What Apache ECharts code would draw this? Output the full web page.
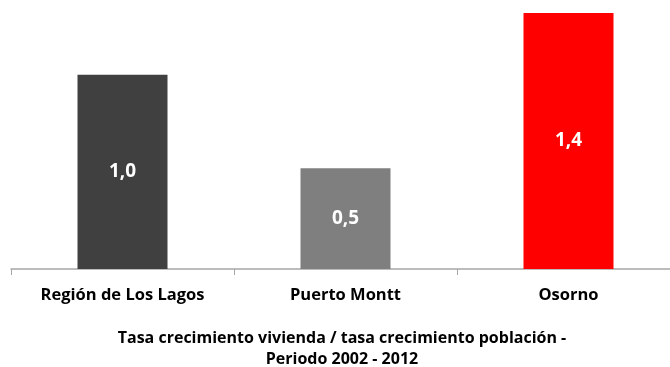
<!DOCTYPE html>
<html><head><meta charset="utf-8">
<script src="https://cdn.jsdelivr.net/npm/echarts@6/dist/echarts.min.js"></script>
<style>html,body{margin:0;padding:0;background:#fff;overflow:hidden}#c{width:690px;height:367px}</style>
</head><body><div id="c"></div>
<script>
const categories = ['Región de Los Lagos', 'Puerto Montt', 'Osorno'];
const values = [1.04, 0.54, 1.37];
const barColors = ['#404040', '#7f7f7f', '#ff0000'];
const axisTitle = 'Tasa crecimiento vivienda / tasa crecimiento población -\nPeriodo 2002 - 2012';

const chart = echarts.init(document.getElementById('c'), null, {renderer: 'canvas'});
const font = '"Open Sans", sans-serif';
chart.setOption({
  animation: false,
  textStyle: {fontFamily: font},
  title: {
    text: axisTitle, left: 337, top: 323, textAlign: 'center',
    textStyle: {fontFamily: font, fontSize: 16, fontWeight: 'bold', color: '#000', lineHeight: 21}
  },
  grid: {left: 11, right: 10, top: 0, bottom: 98, containLabel: false},
  xAxis: {
    type: 'category', data: categories,
    axisLine: {lineStyle: {color: '#a6a6a6', width: 1.5}},
    axisTick: {show: true, length: 6, lineStyle: {color: '#a6a6a6'}},
    axisLabel: {margin: 18, fontFamily: font, fontSize: 16.5, fontWeight: 'bold', color: '#000'}
  },
  yAxis: {type: 'value', min: 0, max: 1.44, show: false, splitLine: {show: false}},
  series: [{
    type: 'bar', barWidth: 90,
    data: values.map((v, i) => ({value: v, itemStyle: {color: barColors[i]}})),
    label: {
      show: true, position: 'inside', color: '#fff', fontFamily: font,
      fontSize: 19, fontWeight: 'bold',
      formatter: p => p.value.toFixed(1).replace('.', ',')
    }
  }]
});
</script></body></html>
